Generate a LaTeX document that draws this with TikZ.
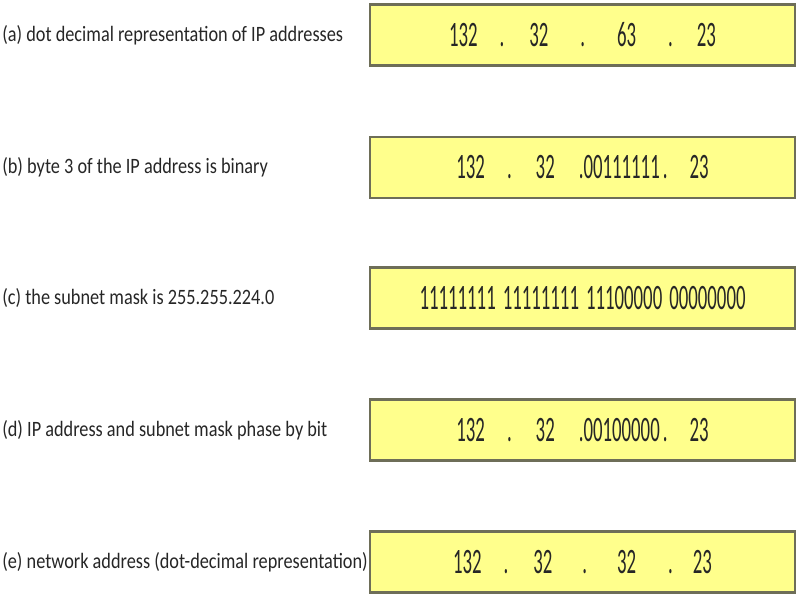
\documentclass[tikz,border=0pt]{standalone}
\usepackage{fontspec}
\setmainfont{Carlito}
\usepackage{tikz}
\usetikzlibrary{positioning,shadows}

\begin{document}
\begin{tikzpicture}[
  lbl/.style={anchor=west, inner sep=0pt,
    font=\fontsize{10.4}{12}\selectfont, text=black!85},
  addr/.style={
    draw=cEdge, line width=1.2pt, fill=cBox,
    minimum width=8.5cm, minimum height=1.22cm, inner sep=0pt,
    font=\fontsize{10.7}{12}\selectfont, text=black!85,
    drop shadow={shadow xshift=0.3pt, shadow yshift=-0.8pt, opacity=0.3}}
]

% ---- palette ----
\definecolor{cBox}{HTML}{FFFF8C}
\definecolor{cEdge}{HTML}{6E6E58}

% ---- grid ----------------------------------------------------------------
% 800 x 600 px  ->  16 x 12 cm (1 px = 0.02 cm).  Box column centre 11.65.
\def\rowA{-0.70}
\def\rowB{-3.35}
\def\rowC{-5.96}
\def\rowD{-8.60}
\def\rowE{-11.24}
\newcommand{\tall}[1]{\scalebox{1}[1.9]{#1}}
\newcommand{\wide}[1]{\scalebox{1}[1.2]{#1}}

\useasboundingbox (0,0) rectangle (16,-12);

% ================= labels =================
\node[lbl] (la) at (0.04,\rowA) {\wide{(a) dot decimal representation of IP addresses}};
\node[lbl] (lb) at (0.04,\rowB) {\wide{(b) byte 3 of the IP address is binary}};
\node[lbl] (lc) at (0.04,\rowC) {\wide{(c) the subnet mask is 255.255.224.0}};
\node[lbl] (ld) at (0.04,\rowD) {\wide{(d) IP address and subnet mask phase by bit}};
\node[lbl] (le) at (0.04,\rowE) {\wide{(e) network address (dot-decimal representation)}};

% ================= address boxes =================
\node[addr] (ba) at (11.65,\rowA) {\tall{132\hspace{0.44cm}.\hspace{0.5cm}32\hspace{0.64cm}.\hspace{0.64cm}63\hspace{0.64cm}.\hspace{0.48cm}23}};
\node[addr] (bb) at (11.65,\rowB) {\tall{132\hspace{0.44cm}.\hspace{0.48cm}32\hspace{0.48cm}.00111111\hspace{0.06cm}.\hspace{0.44cm}23}};
\node[addr] (bc) at (11.65,\rowC) {\tall{11111111\hspace{0.14cm}11111111\hspace{0.14cm}11100000\hspace{0.14cm}00000000}};
\node[addr] (bd) at (11.65,\rowD) {\tall{132\hspace{0.44cm}.\hspace{0.48cm}32\hspace{0.48cm}.00100000\hspace{0.06cm}.\hspace{0.44cm}23}};
\node[addr] (be) at (11.65,\rowE) {\tall{132\hspace{0.44cm}.\hspace{0.5cm}32\hspace{0.6cm}.\hspace{0.6cm}32\hspace{0.64cm}.\hspace{0.4cm}23}};

\end{tikzpicture}
\end{document}
